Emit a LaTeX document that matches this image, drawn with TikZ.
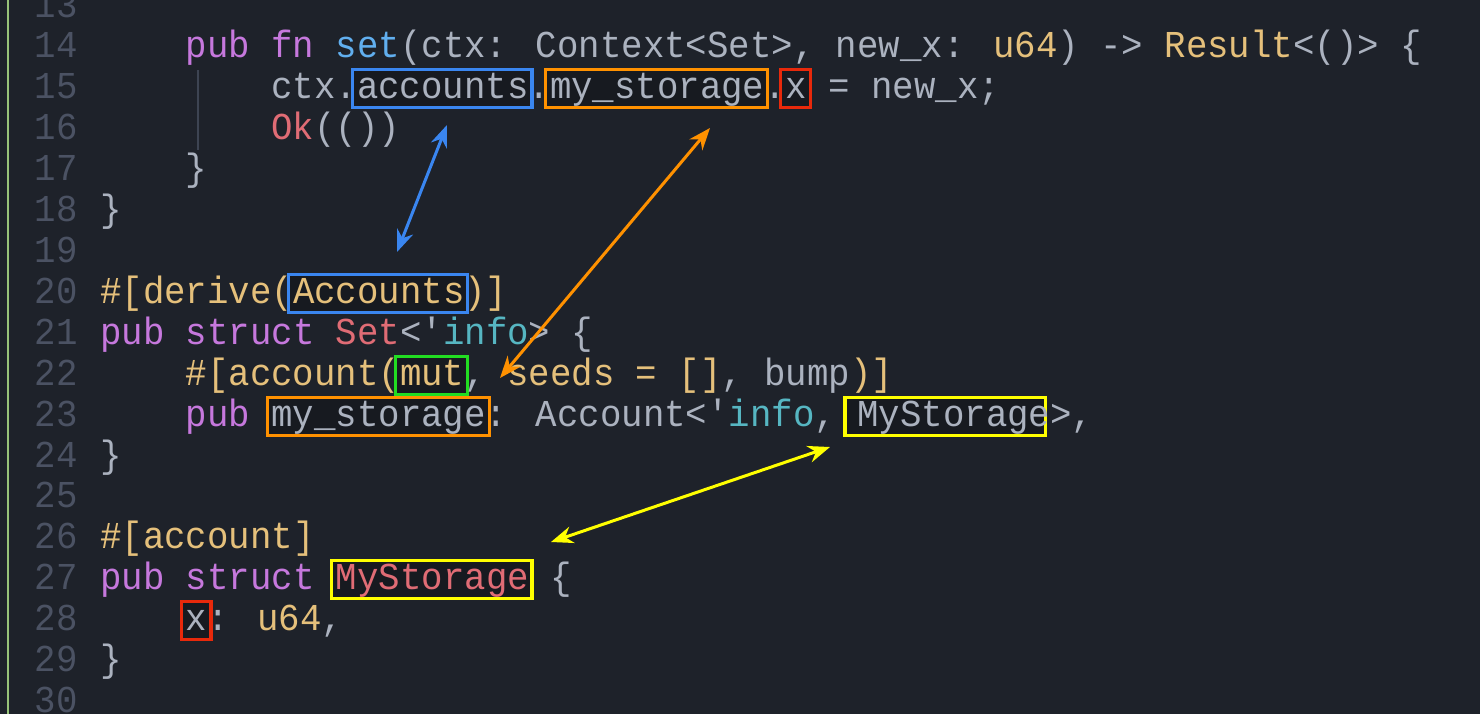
\documentclass[tikz,border=0pt]{standalone}
\usepackage{fontspec}
\newfontfamily\cf[FakeStretch=0.94]{Liberation Mono}
\usetikzlibrary{arrows.meta}
\definecolor{bg}{HTML}{1E222A}
\definecolor{boxbg}{HTML}{171A20}
\definecolor{lnum}{HTML}{4B5263}
\definecolor{fg}{HTML}{ABB2BF}
\definecolor{kw}{HTML}{C678DD}
\definecolor{fnc}{HTML}{61AFEF}
\definecolor{yl}{HTML}{E5C07B}
\definecolor{rd}{HTML}{E06C75}
\definecolor{cy}{HTML}{56B6C2}
\definecolor{cblue}{HTML}{3A86F0}
\definecolor{corange}{HTML}{FF9100}
\definecolor{cred}{HTML}{E8290B}
\definecolor{cgreen}{HTML}{22DD22}
\definecolor{cyellow}{HTML}{FFFF00}
\definecolor{gbar}{HTML}{98C379}
\newcommand\K[1]{\textcolor{kw}{#1}}
\newcommand\F[1]{\textcolor{fnc}{#1}}
\newcommand\Y[1]{\textcolor{yl}{#1}}
\newcommand\R[1]{\textcolor{rd}{#1}}
\newcommand\C[1]{\textcolor{cy}{#1}}
\tikzset{
  code/.style={anchor=base west,inner sep=0,text=fg,font=\cf\fontsize{38}{38}\selectfont},
  num/.style={anchor=base east,inner sep=0,text=lnum,font=\cf\fontsize{38}{38}\selectfont},
  hbox/.style={draw=#1,fill=boxbg,line width=3.2pt,inner sep=0,minimum height=38pt},
  link/.style={draw=#1,line width=3pt,{Stealth[length=22pt,width=17pt]}-{Stealth[length=22pt,width=17pt]}}
}
\newcommand\codeline[3]{%
  \node[num] (n#1) at (78,{58+(#1-14)*40.9}) {#1};
  \node[code] (l#1) at ({100+#2*21.4},{58+(#1-14)*40.9}) {#3};}
\newcommand\hl[5]{%
  \node[hbox=#5,minimum width={#4*21.4+8}] (#1) at ({100+(#3+#4/2)*21.4},{58+(#2-14)*40.9-10}) {};}
\begin{document}
\begin{tikzpicture}[x=1pt,y=-1pt]
\fill[bg] (0,0) rectangle (1480,714);
\useasboundingbox (0,0) rectangle (1480,714);
\draw[color=gbar,line width=2pt] (8,0) -- (8,714);
\draw[color=lnum!70!bg,line width=1.5pt] (198,70) -- (198,150);
% boxes
\hl{accA}{15}{12}{8}{cblue}
\hl{myA}{15}{21}{10}{corange}
\hl{xA}{15}{32}{1}{cred}
\hl{accB}{20}{9}{8}{cblue}
\hl{mutB}{22}{14}{3}{cgreen}
\hl{myB}{23}{8}{10}{corange}
\hl{msA}{23}{35}{9}{cyellow}
\hl{msB}{27}{11}{9}{cyellow}
\hl{xB}{28}{4}{1}{cred}
% code
\node[num] (n13) at (78,{58-40.9}) {13};
\codeline{14}{4}{\K{pub} \K{fn} \F{set}(ctx: Context<Set>, new\_x: \Y{u64}) -> \Y{Result}<()> \{}
\codeline{15}{8}{ctx.accounts.my\_storage.x = new\_x;}
\codeline{16}{8}{\R{Ok}(())}
\codeline{17}{4}{\}}
\codeline{18}{0}{\}}
\node[num] (n19) at (78,{58+5*40.9}) {19};
\codeline{20}{0}{\Y{\#[derive(Accounts)]}}
\codeline{21}{0}{\K{pub} \K{struct} \R{Set}<'\C{info}> \{}
\codeline{22}{4}{\Y{\#[account(mut}, \Y{seeds = []}, bump\Y{)]}}
\codeline{23}{4}{\K{pub} my\_storage: Account<'\C{info}, MyStorage>,}
\codeline{24}{0}{\}}
\node[num] (n25) at (78,{58+11*40.9}) {25};
\codeline{26}{0}{\Y{\#[account]}}
\codeline{27}{0}{\K{pub} \K{struct} \R{MyStorage} \{}
\codeline{28}{4}{x: \Y{u64},}
\codeline{29}{0}{\}}
\node[num] (n30) at (78,{58+16*40.9}) {30};
% arrows
\coordinate (b1) at (447,125); \coordinate (b2) at (397,252);
\coordinate (o1) at (710,128); \coordinate (o2) at (500,378);
\coordinate (y1) at (830,447); \coordinate (y2) at (551,542);
\draw[link=cblue] (b1) -- (b2);
\draw[link=corange] (o1) -- (o2);
\draw[link=cyellow] (y1) -- (y2);
\end{tikzpicture}
\end{document}
